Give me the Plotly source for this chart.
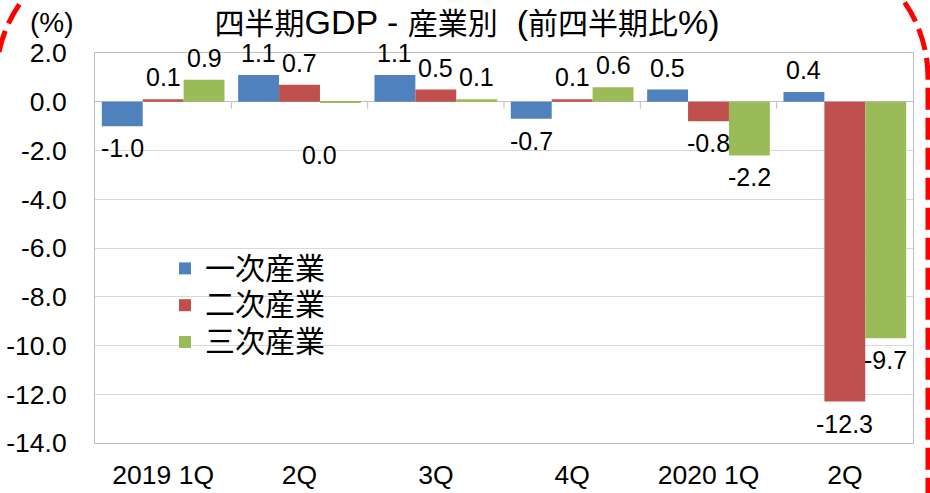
import re
import numpy as np
import plotly.graph_objects as go

# ---------------- data ----------------
categories = ["2019 1Q", "2Q", "3Q", "4Q", "2020 1Q", "2Q "]
category_labels = ["2019 1Q", "2Q", "3Q", "4Q", "2020 1Q", "2Q"]
series_names = ["一次産業", "二次産業", "三次産業"]
primary = [-1.0, 1.1, 1.1, -0.7, 0.5, 0.4]
secondary = [0.1, 0.7, 0.5, 0.1, -0.8, -12.3]
tertiary = [0.9, -0.02, 0.1, 0.6, -2.2, -9.7]
y_tick_values = [2, 0, -2, -4, -6, -8, -10, -12, -14]
y_tick_labels = ["2.0", "0.0", "-2.0", "-4.0", "-6.0", "-8.0", "-10.0", "-12.0", "-14.0"]
title_text = "四半期GDP - 産業別\u00a0 (前四半期比%)"
unit_text = "(%)"

# ---------------- style ----------------
colors = ["#4F81BD", "#C0504D", "#9BBB59"]
FONT = "Liberation Sans, Arial, Noto Sans CJK JP, sans-serif"
W, H = 930, 493
ML, MR, MT, MB = 95, 17, 53, 50
PW, PH = W - ML - MR, H - MT - MB
BARGAP = 0.1
LABEL_GAP = 22
label_nudge = {(2, 1): (-21, 31)}  # (series, category) -> pixel shift

def mixed(text, cjk_size, latin_size):
    parts = re.findall(r"[\u3000-\u9fff]+|[^\u3000-\u9fff]+", text)
    out = []
    for p in parts:
        size = cjk_size if re.match(r"[\u3000-\u9fff]", p) else latin_size
        out.append(f'<span style="font-size:{size}px">{p}</span>')
    return "".join(out)

def fmt(v):
    s = f"{v:.1f}"
    return "0.0" if s == "-0.0" else s

fig = go.Figure()
all_series = [primary, secondary, tertiary]
for name, vals, col in zip(series_names, all_series, colors):
    fig.add_trace(go.Bar(name=mixed(name, 30, 26), x=list(range(len(categories))), y=vals,
                         marker=dict(color=col, line=dict(width=0))))

# data labels
bw = (1 - BARGAP) / 3
for k, vals in enumerate(all_series):
    for i, v in enumerate(vals):
        dx, dy = label_nudge.get((k, i), (0, 0))
        ys = LABEL_GAP if v >= 0 else -LABEL_GAP
        fig.add_annotation(x=i + (k - 1) * bw, y=v, xref="x", yref="y",
                           text=fmt(v), showarrow=False,
                           xanchor="center", yanchor="middle",
                           yshift=ys - dy, xshift=dx,
                           font=dict(size=25, color="black", family=FONT))

# category boundary ticks on zero line
for i in range(len(categories) - 1):
    fig.add_shape(type="line", xref="x", yref="y", x0=i + 0.5, x1=i + 0.5,
                  ysizemode="pixel", yanchor=0, y0=0, y1=-7,
                  line=dict(color="#BFBFBF", width=1))

# decorative red dashed rounded outline
def px2paper(px, py):
    return (px - ML) / PW, (H - MB - py) / PH

def arc_path(cx, cy, r, a0, a1):
    a0r, a1r = np.radians(a0), np.radians(a1)
    k = 4 / 3 * np.tan((a1r - a0r) / 4) * r
    p0 = (cx + r * np.cos(a0r), cy + r * np.sin(a0r))
    p3 = (cx + r * np.cos(a1r), cy + r * np.sin(a1r))
    p1 = (p0[0] - k * np.sin(a0r), p0[1] + k * np.cos(a0r))
    p2 = (p3[0] + k * np.sin(a1r), p3[1] - k * np.cos(a1r))
    return p0, p1, p2, p3

def side_path(cx, cy, r, a0, a1, xend):
    pts = [px2paper(*p) for p in arc_path(cx, cy, r, a0, a1)]
    end = px2paper(xend, 520)
    return (f"M{pts[0][0]:.5f},{pts[0][1]:.5f} C{pts[1][0]:.5f},{pts[1][1]:.5f} "
            f"{pts[2][0]:.5f},{pts[2][1]:.5f} {pts[3][0]:.5f},{pts[3][1]:.5f} "
            f"L{end[0]:.5f},{end[1]:.5f}")

R = 134
path_r = side_path(928 - R, 78, R, -60, 0, 928)
path_l = side_path(-4 + R, 80, R, 240, 180, -4)
for p in (path_r, path_l):
    fig.add_shape(type="path", xref="paper", yref="paper", path=p,
                  line=dict(color="#FF0000", width=5, dash="22px,8px"), layer="above")

fig.add_annotation(x=px2paper(52, 0)[0], y=px2paper(0, 22)[1], xref="paper", yref="paper",
                   text=unit_text, showarrow=False, xanchor="center", yanchor="middle",
                   font=dict(size=28, color="black", family=FONT))

fig.update_layout(
    width=W, height=H,
    margin=dict(l=ML, r=MR, t=MT, b=MB, autoexpand=False),
    paper_bgcolor="white", plot_bgcolor="white",
    barmode="group", bargap=BARGAP, bargroupgap=0,
    font=dict(family=FONT, size=25, color="black"),
    title=dict(text=mixed(title_text, 30, 34), x=(467 / W), xanchor="center", y=1 - 25 / H,
               yanchor="middle", font=dict(size=27, color="black", family=FONT)),
    showlegend=True,
    legend=dict(x=(165 - ML) / PW, y=(H - MB - 245) / PH, xanchor="left", yanchor="top",
                bgcolor="rgba(0,0,0,0)", font=dict(size=26, family=FONT, color="black"),
                tracegroupgap=0),
    xaxis=dict(tickmode="array", tickvals=list(range(len(categories))), ticktext=category_labels,
               range=[-0.5, len(categories) - 0.5], showgrid=False, zeroline=False,
               showline=True, linecolor="#BFBFBF", linewidth=1, mirror=True,
               ticks="", ticklabelstandoff=8, tickfont=dict(size=26.5), automargin=False),
    yaxis=dict(range=[-14, 2], tickmode="array", tickvals=y_tick_values, ticktext=y_tick_labels,
               showgrid=True, gridcolor="#D9D9D9", gridwidth=1,
               zeroline=True, zerolinecolor="#BFBFBF", zerolinewidth=1,
               showline=True, linecolor="#BFBFBF", linewidth=1, mirror=True,
               ticks="", ticklabelstandoff=22, tickfont=dict(size=26.5), automargin=False),
)

fig.write_html("out.html", config={"displayModeBar": False},
               post_script="document.body.style.margin='0';document.body.style.overflow='hidden';")
